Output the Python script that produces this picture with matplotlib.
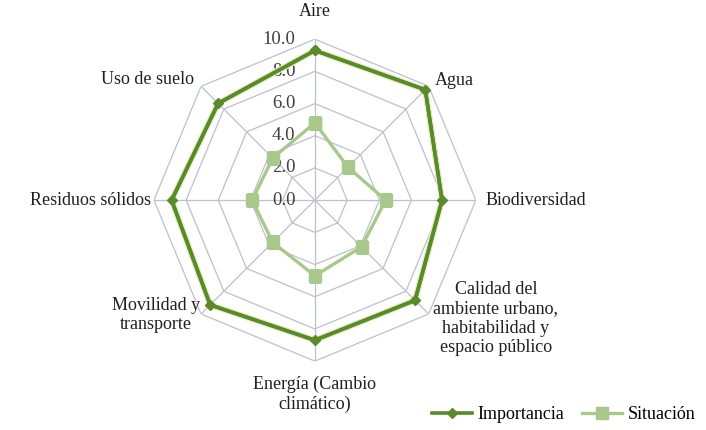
import matplotlib.pyplot as plt
import matplotlib.patheffects as pe
import numpy as np

plt.rcParams['font.family'] = ['Liberation Serif', 'DejaVu Serif']

categories = ['Aire', 'Agua', 'Biodiversidad',
              'Calidad del\nambiente urbano,\nhabitabilidad y\nespacio público',
              'Energía (Cambio\nclimático)', 'Movilidad y\ntransporte',
              'Residuos sólidos', 'Uso de suelo']
importancia = [9.3, 9.7, 7.9, 8.8, 8.7, 9.2, 8.9, 8.5]
situacion = [4.8, 2.9, 4.4, 4.1, 4.7, 3.7, 3.9, 3.7]
ticks = [0, 2, 4, 6, 8, 10]
tick_labels = ['0.0', '2.0', '4.0', '6.0', '8.0', '10.0']

n = len(categories)
angles = np.arange(n) * 2 * np.pi / n
closed = np.append(angles, angles[0])
imp_c = np.append(importancia, importancia[0])
sit_c = np.append(situacion, situacion[0])

fig = plt.figure(figsize=(7.06, 4.30), dpi=100)
ax = fig.add_axes([0.218, 0.160, 0.456, 0.749], projection='polar')
ax.set_theta_zero_location('N')
ax.set_theta_direction(-1)
ax.set_ylim(0, 10)
ax.grid(False)
ax.spines['polar'].set_visible(False)
ax.set_xticks([])
ax.set_yticks([])

grid_c = '#bcc0d0'
for t in ticks[1:]:
    ax.plot(closed, [t] * (n + 1), color=grid_c, lw=0.9, zorder=1)
for a in angles:
    ax.plot([a, a], [0, 10], color=grid_c, lw=0.9, zorder=1)

for t, lab in zip(ticks, tick_labels):
    ax.annotate(lab, xy=(0, t), xytext=(-14, 0), textcoords='offset points',
                ha='right', va='center', fontsize=13.5, color='#404040')

# soft light halo around the dark line (as in the original)
ax.plot(closed, imp_c, color='#5a8a2a', lw=2.6, zorder=4,
        path_effects=[pe.Stroke(linewidth=4.6, foreground='#e4efc2'), pe.Normal()])
ax.plot(closed, imp_c, color='#5a8a2a', lw=2.6, marker='D', ms=5, zorder=5,
        label='Importancia')
ax.plot(closed, sit_c, color='#a9c98c', lw=2.4, marker='s', ms=9, zorder=3,
        label='Situación')

# category labels
label_pos = [
    (11.2, 'center', 'bottom'),
    (10.5, 'left', 'center'),
    (10.6, 'left', 'center'),
    (10.4, 'left', 'center'),
    (10.9, 'center', 'top'),
    (10.1, 'right', 'center'),
    (10.2, 'right', 'center'),
    (10.6, 'right', 'center'),
]
for a, name, (r, ha, va) in zip(angles, categories, label_pos):
    ax.text(a, r, name, ha=ha, va=va, fontsize=13, color='#202020',
            multialignment='center', linespacing=1.2)

fig.legend(loc='lower right', bbox_to_anchor=(1.0, -0.01), ncol=2, frameon=False,
           fontsize=13, handlelength=2.2, columnspacing=1.0, handletextpad=0.3,
           borderaxespad=0.2)

fig.savefig('out.png', dpi=100)
